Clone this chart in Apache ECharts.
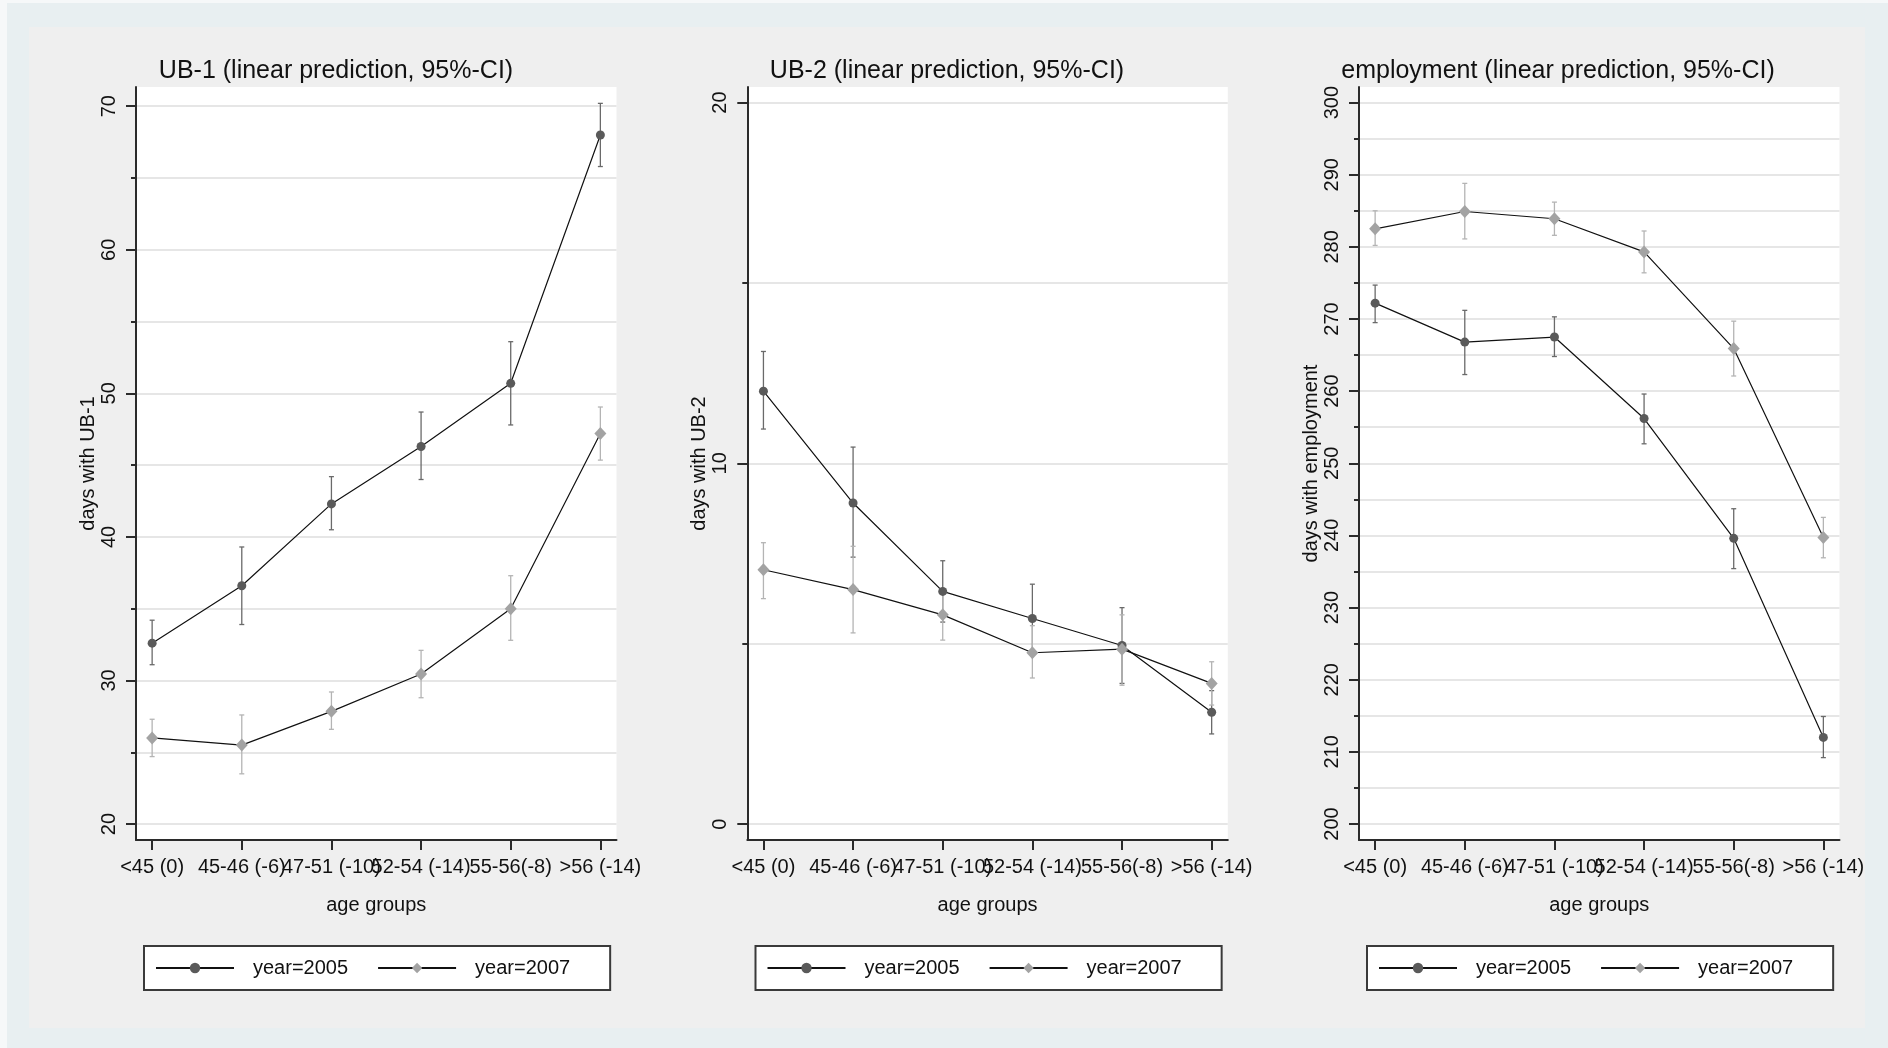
<!DOCTYPE html>
<html>
<head>
<meta charset="utf-8">
<script src="https://cdn.jsdelivr.net/npm/echarts@6/dist/echarts.min.js"></script>
<style>
html, body { margin: 0; padding: 0; background: #e8eff1; }
#chart { width: 1888px; height: 1048px; }
</style>
</head>
<body>
<div id="chart"></div>
<script>
// data
var categories = ["<45 (0)", "45-46 (-6)", "47-51 (-10)", "52-54 (-14)", "55-56(-8)", ">56 (-14)"];
var seriesNames = ["year=2005", "year=2007"];

var ub1_2005 = [32.6, 36.6, 42.3, 46.3, 50.7, 68.0];
var ub1_2005_lo = [31.1, 33.9, 40.5, 44.0, 47.8, 65.8];
var ub1_2005_hi = [34.2, 39.3, 44.2, 48.7, 53.6, 70.2];
var ub1_2007 = [26.0, 25.5, 27.85, 30.45, 35.0, 47.2];
var ub1_2007_lo = [24.7, 23.5, 26.6, 28.8, 32.8, 45.35];
var ub1_2007_hi = [27.3, 27.6, 29.2, 32.1, 37.3, 49.05];

var ub2_2005 = [12.0, 8.9, 6.45, 5.7, 4.95, 3.1];
var ub2_2005_lo = [10.95, 7.4, 5.6, 4.75, 3.9, 2.5];
var ub2_2005_hi = [13.1, 10.45, 7.3, 6.65, 6.0, 3.7];
var ub2_2007 = [7.05, 6.5, 5.8, 4.75, 4.85, 3.9];
var ub2_2007_lo = [6.25, 5.3, 5.1, 4.05, 3.85, 3.3];
var ub2_2007_hi = [7.8, 7.7, 6.45, 5.5, 5.8, 4.5];

var emp_2005 = [272.2, 266.8, 267.5, 256.2, 239.6, 212.0];
var emp_2005_lo = [269.5, 262.3, 264.8, 252.7, 235.4, 209.2];
var emp_2005_hi = [274.7, 271.2, 270.3, 259.6, 243.7, 214.9];
var emp_2007 = [282.5, 284.9, 283.9, 279.3, 265.9, 239.7];
var emp_2007_lo = [280.2, 281.1, 281.6, 276.4, 262.1, 236.9];
var emp_2007_hi = [285.0, 288.8, 286.2, 282.2, 269.7, 242.5];

// tick labels
var ub1Ticks = [20, 30, 40, 50, 60, 70];
var ub1Minor = [25, 35, 45, 55, 65];
var ub2Ticks = [0, 10, 20];
var ub2Minor = [5, 15];
var empTicks = [200, 210, 220, 230, 240, 250, 260, 270, 280, 290, 300];
var empMinor = [205, 215, 225, 235, 245, 255, 265, 275, 285, 295];
var xTicks = [0, 1, 2, 3, 4, 5];

var FONT = "'Liberation Sans', Arial, Helvetica, sans-serif";
var TXT = "#111";
var AXC = "#2b2b2b";
var GRIDC = "#e6e6e6";

var panels = [
  { title: "UB-1 (linear prediction, 95%-CI)", titleX: 336, yName: "days with UB-1",
    left: 136, min: 18.89, max: 71.34, major: ub1Ticks, minor: ub1Minor, legendLeft: 144,
    v05: ub1_2005, lo05: ub1_2005_lo, hi05: ub1_2005_hi,
    v07: ub1_2007, lo07: ub1_2007_lo, hi07: ub1_2007_hi },
  { title: "UB-2 (linear prediction, 95%-CI)", titleX: 947, yName: "days with UB-2",
    left: 747.3, min: -0.44, max: 20.43, major: ub2Ticks, minor: ub2Minor, legendLeft: 755.5,
    v05: ub2_2005, lo05: ub2_2005_lo, hi05: ub2_2005_hi,
    v07: ub2_2007, lo07: ub2_2007_lo, hi07: ub2_2007_hi },
  { title: "employment (linear prediction, 95%-CI)", titleX: 1558, yName: "days with employment",
    left: 1359, min: 197.78, max: 302.16, major: empTicks, minor: empMinor, legendLeft: 1367,
    v05: emp_2005, lo05: emp_2005_lo, hi05: emp_2005_hi,
    v07: emp_2007, lo07: emp_2007_lo, hi07: emp_2007_hi }
];

function ciSeries(gi, lo, hi, color) {
  return {
    type: "custom",
    name: "ci",
    xAxisIndex: gi,
    yAxisIndex: gi * 2,
    z: 3,
    silent: true,
    data: lo.map(function (v, i) { return [i, v, hi[i]]; }),
    encode: { x: 0, y: [1, 2] },
    renderItem: function (params, api) {
      var x = api.value(0);
      var a = api.coord([x, api.value(1)]);
      var b = api.coord([x, api.value(2)]);
      var cap = 2.5;
      function st() { return { stroke: color, lineWidth: 1.3 }; }
      return {
        type: "group",
        children: [
          { type: "line", shape: { x1: a[0], y1: a[1], x2: b[0], y2: b[1] }, style: st() },
          { type: "line", shape: { x1: a[0] - cap, y1: a[1], x2: a[0] + cap, y2: a[1] }, style: st() },
          { type: "line", shape: { x1: b[0] - cap, y1: b[1], x2: b[0] + cap, y2: b[1] }, style: st() }
        ]
      };
    }
  };
}

function lineSeries(gi, name, vals, symbol, size, color) {
  return {
    type: "line",
    name: name,
    xAxisIndex: gi,
    yAxisIndex: gi * 2,
    z: 5,
    silent: true,
    data: vals.map(function (v, i) { return [i, v]; }),
    symbol: symbol,
    symbolSize: size,
    itemStyle: { color: color, borderWidth: 0 },
    lineStyle: { color: "#111", width: 1.2 }
  };
}

var grids = [], xAxes = [], yAxes = [], series = [], legends = [], graphics = [];

// gray plot-region background
graphics.push({ type: "rect", z: -10, silent: true, shape: { x: 0, y: 0, width: 1888, height: 3 }, style: { fill: "#f6f8f9" } });
graphics.push({ type: "rect", z: -10, silent: true, shape: { x: 0, y: 0, width: 7, height: 1048 }, style: { fill: "#f6f8f9" } });
graphics.push({ type: "rect", z: -10, silent: true, shape: { x: 29, y: 27, width: 1836, height: 1001 }, style: { fill: "#efefef" } });

panels.forEach(function (p, gi) {
  grids.push({
    left: p.left, top: 87, width: 480.5, height: 753,
    show: true, backgroundColor: "#fff", borderWidth: 0
  });
  xAxes.push({
    type: "value", gridIndex: gi, min: -0.18, max: 5.18,
    axisLine: { show: true, onZero: false, lineStyle: { color: AXC, width: 2 } },
    axisTick: { show: true, length: 10, customValues: xTicks, lineStyle: { color: AXC, width: 2 } },
    axisLabel: {
      customValues: xTicks, fontSize: 20, color: TXT, margin: 17, fontFamily: FONT,
      formatter: function (v) { return categories[v]; }
    },
    splitLine: { show: false },
    name: "age groups", nameLocation: "middle", nameGap: 55,
    nameTextStyle: { fontSize: 20, color: TXT, fontFamily: FONT }
  });
  yAxes.push({
    type: "value", gridIndex: gi, min: p.min, max: p.max, position: "left",
    axisLine: { show: true, onZero: false, lineStyle: { color: AXC, width: 2 } },
    axisTick: { show: true, length: 10, customValues: p.major, lineStyle: { color: AXC, width: 2 } },
    axisLabel: { customValues: p.major, rotate: 90, fontSize: 20, color: TXT, margin: 17, fontFamily: FONT },
    splitLine: { show: true, lineStyle: { color: GRIDC, width: 2 } },
    name: p.yName, nameLocation: "middle", nameGap: 38,
    nameTextStyle: { fontSize: 20, color: TXT, fontFamily: FONT }
  });
  yAxes.push({
    type: "value", gridIndex: gi, min: p.min, max: p.max, position: "left",
    axisLine: { show: false, onZero: false },
    axisTick: { show: true, length: 5, customValues: p.minor, lineStyle: { color: AXC, width: 2 } },
    axisLabel: { show: false },
    splitLine: { show: true, lineStyle: { color: GRIDC, width: 2 } }
  });

  series.push(ciSeries(gi, p.lo05, p.hi05, "#6a6a6a"));
  series.push(ciSeries(gi, p.lo07, p.hi07, "#b4b4b4"));
  series.push(lineSeries(gi, seriesNames[0], p.v05, "circle", 9, "#5a5a5a"));
  series.push(lineSeries(gi, seriesNames[1], p.v07, "diamond", [12, 13], "#a3a3a3"));

  legends.push({
    data: seriesNames,
    left: p.legendLeft, top: 946,
    orient: "horizontal",
    itemWidth: 78, itemHeight: 13, itemGap: 29,
    padding: [12, 40, 12, 11],
    backgroundColor: "#fff", borderColor: "#3a3a3a", borderWidth: 2, borderRadius: 0,
    selectedMode: false,
    textStyle: { fontSize: 20, color: TXT, fontFamily: FONT, padding: [0, 0, 0, 14] }
  });

  graphics.push({
    type: "text", x: p.titleX, y: 71, z: 10, silent: true,
    style: { text: p.title, fill: TXT, font: "25px " + FONT, align: "center", verticalAlign: "middle" }
  });
});

var chart = echarts.init(document.getElementById("chart"));
chart.setOption({
  backgroundColor: "#e8eff1",
  animation: false,
  textStyle: { fontFamily: FONT },
  grid: grids,
  xAxis: xAxes,
  yAxis: yAxes,
  legend: legends,
  graphic: graphics,
  series: series
});
</script>
</body>
</html>
